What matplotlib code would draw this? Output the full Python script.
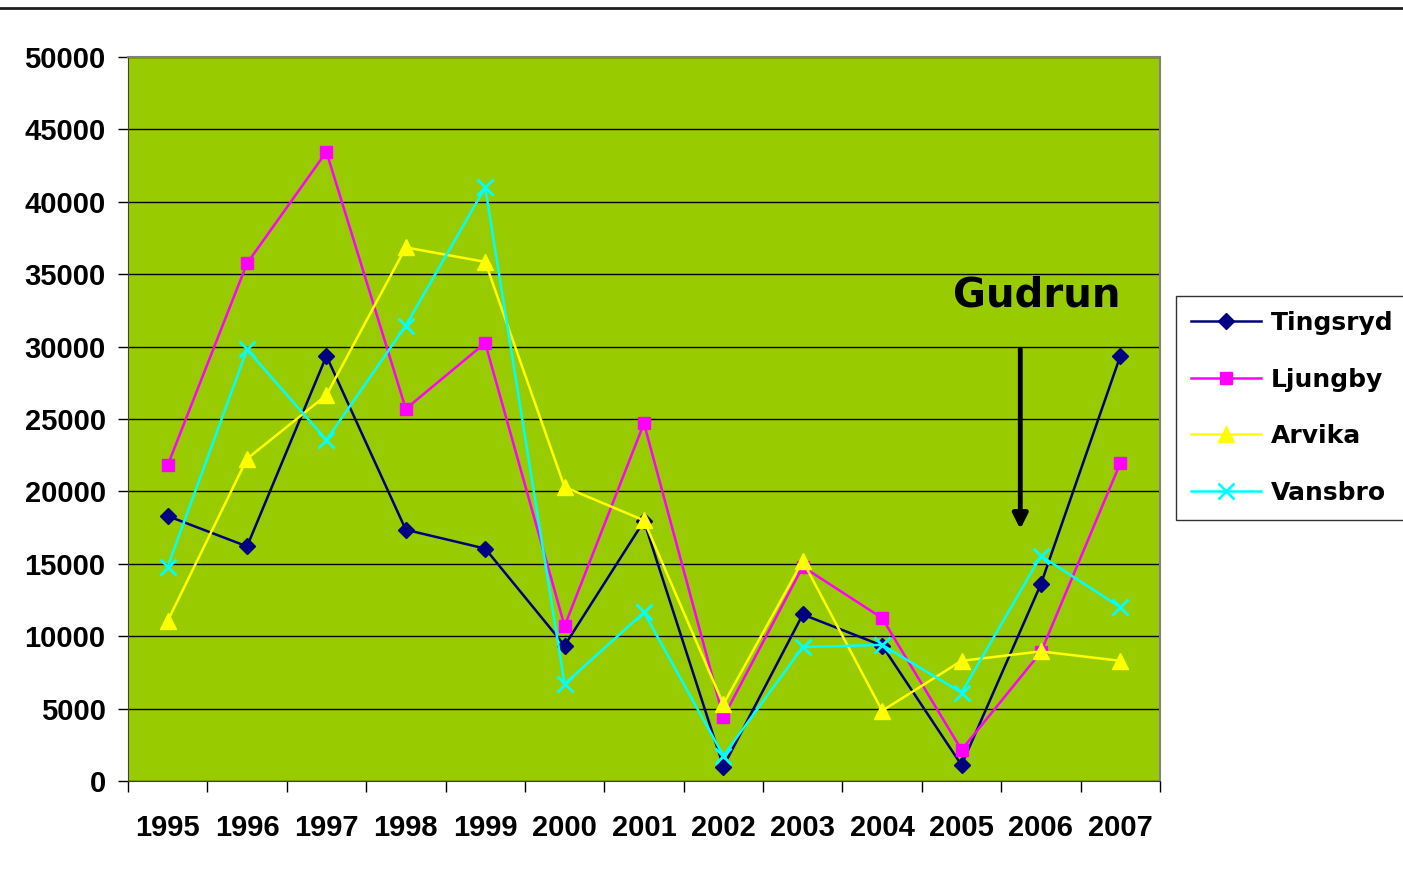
import matplotlib.pyplot as plt
from matplotlib.lines import Line2D

# Data
years = ['1995', '1996', '1997', '1998', '1999', '2000', '2001',
         '2002', '2003', '2004', '2005', '2006', '2007']
tingsryd = [18300, 16200, 29350, 17350, 16050, 9350, 17950,
            1000, 11500, 9350, 1100, 13600, 29350]
ljungby = [21800, 35750, 43450, 25700, 30250, 10700, 24700,
           4400, 14800, 11250, 2150, 8900, 21950]
arvika = [11050, 22250, 26650, 36850, 35850, 20300, 18000,
          5300, 15200, 4850, 8300, 8950, 8300]
vansbro = [14800, 29800, 23550, 31450, 41000, 6700, 11650,
           1750, 9250, 9400, 6100, 15550, 12000]

x = list(range(len(years)))

fig = plt.figure(figsize=(14.03, 8.74), dpi=100)
ax = fig.add_axes([0.0912, 0.1064, 0.7356, 0.8284])
ax.set_facecolor('#99CC00')

ax.plot(x, tingsryd, color='#000080', lw=1.8, marker='D', ms=8, label='Tingsryd')
ax.plot(x, ljungby, color='#FF00FF', lw=1.8, marker='s', ms=9, label='Ljungby')
ax.plot(x, arvika, color='#FFFF00', lw=1.8, marker='^', ms=11, label='Arvika')
ax.plot(x, vansbro, color='#00FFFF', lw=1.8, marker='x', ms=11, mew=2, label='Vansbro')

# Axes, grid and ticks
ax.set_ylim(0, 50000)
ax.set_xlim(-0.5, len(years) - 0.5)
ax.set_yticks(range(0, 50001, 5000))
ax.yaxis.grid(True, color='black', lw=1)
ax.set_axisbelow(True)
ax.tick_params(axis='y', direction='out', length=7, width=1, pad=9,
               labelsize=21)
for lab in ax.get_yticklabels():
    lab.set_fontweight('bold')
    lab.set_family('Liberation Sans')

ax.set_xticks([i - 0.5 for i in range(len(years) + 1)])
ax.set_xticklabels([])
ax.tick_params(axis='x', which='major', direction='out', length=8, width=1)
ax.set_xticks(x, minor=True)
ax.set_xticklabels(years, minor=True, fontsize=21, fontweight='bold',
                   family='Liberation Sans')
ax.tick_params(axis='x', which='minor', length=0, pad=24)

for side in ['top', 'right']:
    ax.spines[side].set_color('#808080')
    ax.spines[side].set_linewidth(1.5)
ax.spines['left'].set_color('#404040')
ax.spines['bottom'].set_color('#404040')

# Annotation
ax.text(10.95, 33500, 'Gudrun', fontsize=29, fontweight='bold',
        family='DejaVu Sans', ha='center', va='center')
ax.annotate('', xy=(10.74, 17200), xytext=(10.74, 30000),
            arrowprops=dict(arrowstyle='-|>', color='black', lw=3.5,
                            mutation_scale=22))

leg = fig.legend(loc='center', bbox_to_anchor=(0.8440, 0.3936, 0.1540, 0.2792),
                 frameon=True, fancybox=False, edgecolor='black',
                 prop={'family': 'DejaVu Sans', 'weight': 'bold', 'size': 18},
                 labelspacing=1.3, handlelength=2.8, borderpad=0.6,
                 handletextpad=0.4)
leg.get_frame().set_linewidth(1)

# Line across the top of the slide
fig.add_artist(Line2D([0, 1], [0.9908, 0.9908], color='#202020', lw=2,
                      transform=fig.transFigure))

fig.savefig('out.png', dpi=100, facecolor='white')
